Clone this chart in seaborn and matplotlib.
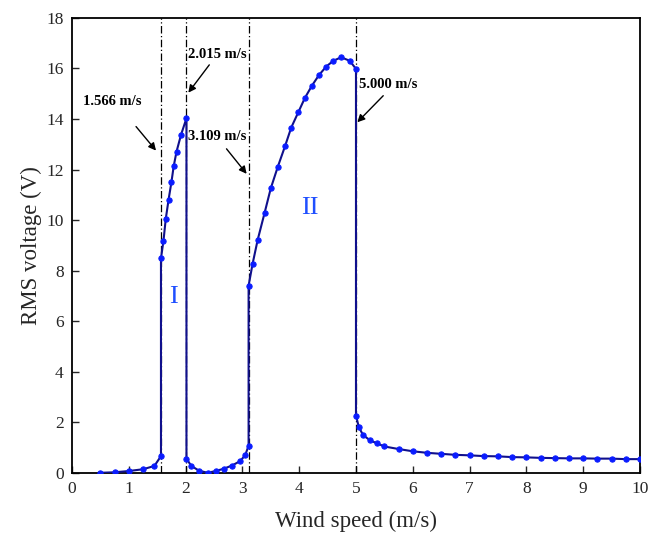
import numpy as np
import pandas as pd
import matplotlib
matplotlib.use("Agg")
import matplotlib.pyplot as plt
import seaborn as sns

# Low-speed branch up to the first jump
x_low = [0.5, 0.75, 1.0, 1.25, 1.45, 1.566]
y_low = [0.01, 0.03, 0.08, 0.15, 0.28, 0.67]

# Branch I (1.566 - 2.015 m/s)
x_b1 = [1.566, 1.61, 1.65, 1.70, 1.75, 1.79, 1.84, 1.92, 2.015]
y_b1 = [8.49, 9.18, 10.04, 10.81, 11.5, 12.13, 12.71, 13.38, 14.03]

# Gap between the two branches
x_mid = [2.015, 2.1, 2.24, 2.39, 2.53, 2.67, 2.81, 2.96, 3.05, 3.109]
y_mid = [0.57, 0.28, 0.09, 0.01, 0.08, 0.17, 0.29, 0.47, 0.71, 1.08]

# Branch II (3.109 - 5.000 m/s)
x_b2 = [3.109, 3.18, 3.27, 3.39, 3.5, 3.625, 3.75, 3.86, 3.985, 4.1,
        4.225, 4.35, 4.475, 4.6, 4.74, 4.89, 5.0]
y_b2 = [7.41, 8.28, 9.23, 10.28, 11.26, 12.12, 12.92, 13.66, 14.27, 14.83,
        15.32, 15.74, 16.07, 16.3, 16.44, 16.3, 15.98]

# High-speed tail
x_high = [5.0, 5.05, 5.125, 5.25, 5.375, 5.5, 5.75, 6.0, 6.25, 6.5, 6.75,
          7.0, 7.25, 7.5, 7.75, 8.0, 8.25, 8.5, 8.75, 9.0, 9.25, 9.5,
          9.75, 10.0]
y_high = [2.27, 1.82, 1.50, 1.29, 1.17, 1.05, 0.95, 0.86, 0.80, 0.76, 0.72,
          0.70, 0.67, 0.66, 0.63, 0.62, 0.60, 0.59, 0.58, 0.58, 0.57, 0.57,
          0.55, 0.55]

# Critical wind speeds (jumps)
critical = [1.566, 2.015, 3.109, 5.000]
crit_labels = ["1.566 m/s", "2.015 m/s", "3.109 m/s", "5.000 m/s"]
# label position (left, centre) and arrow tail/head in data units
label_pos = [(0.19, 14.69), (2.037, 16.56), (2.037, 13.30), (5.058, 15.35)]
arrow_tail = [(1.127, 13.70), (2.417, 16.14), (2.72, 12.82), (5.48, 14.92)]
arrow_head = [(1.479, 12.75), (2.048, 15.04), (3.075, 11.83), (5.023, 13.87)]

x_ticks = list(range(0, 11))
y_ticks = list(range(0, 19, 2))

df = pd.DataFrame({
    "wind": x_low + x_b1 + x_mid + x_b2 + x_high,
    "vrms": y_low + y_b1 + y_mid + y_b2 + y_high,
})

sns.set_theme(style="ticks")
plt.rcParams["font.family"] = ["Liberation Serif", "DejaVu Serif"]

fig = plt.figure(figsize=(6.49, 5.40), dpi=100)
ax = fig.add_axes([0.111, 0.124, 0.875, 0.843])

for xc in critical:
    ax.axvline(xc, color="black", lw=0.9, ls=(0, (6, 2, 1, 2)), zorder=1)

sns.lineplot(data=df, x="wind", y="vrms", sort=False, estimator=None,
             color="#10108c", lw=1.5, marker="o", markersize=3.8,
             markerfacecolor="#0a1cff", markeredgecolor="#0a1cff",
             ax=ax, zorder=3)

for txt, (tx, ty), tail, head in zip(crit_labels, label_pos, arrow_tail, arrow_head):
    ax.text(tx, ty, txt, fontsize=10.5, fontweight="bold", ha="left",
            va="center", color="black")
    ax.annotate("", xy=head, xytext=tail,
                arrowprops=dict(arrowstyle="-|>", color="black", lw=1.0,
                                mutation_scale=11, shrinkA=0, shrinkB=0))

ax.text(1.78, 6.96, "I", color="#1f4fff", fontsize=19, ha="center", va="center")
ax.text(4.19, 10.48, "II", color="#1f4fff", fontsize=19, ha="center", va="center")

ax.set_xlim(0, 10)
ax.set_ylim(0, 18)
ax.set_xticks(x_ticks)
ax.set_yticks(y_ticks)
ax.set_xlabel("Wind speed (m/s)", fontsize=16.5, labelpad=10)
ax.set_ylabel("RMS voltage (V)", fontsize=16.5, labelpad=3)
ax.tick_params(direction="in", length=5, width=1.0, labelsize=12.5,
               top=False, right=False, pad=6)
for s in ax.spines.values():
    s.set_linewidth(1.3)
    s.set_color("black")
    s.set_visible(True)

fig.savefig("out.png", dpi=100)
